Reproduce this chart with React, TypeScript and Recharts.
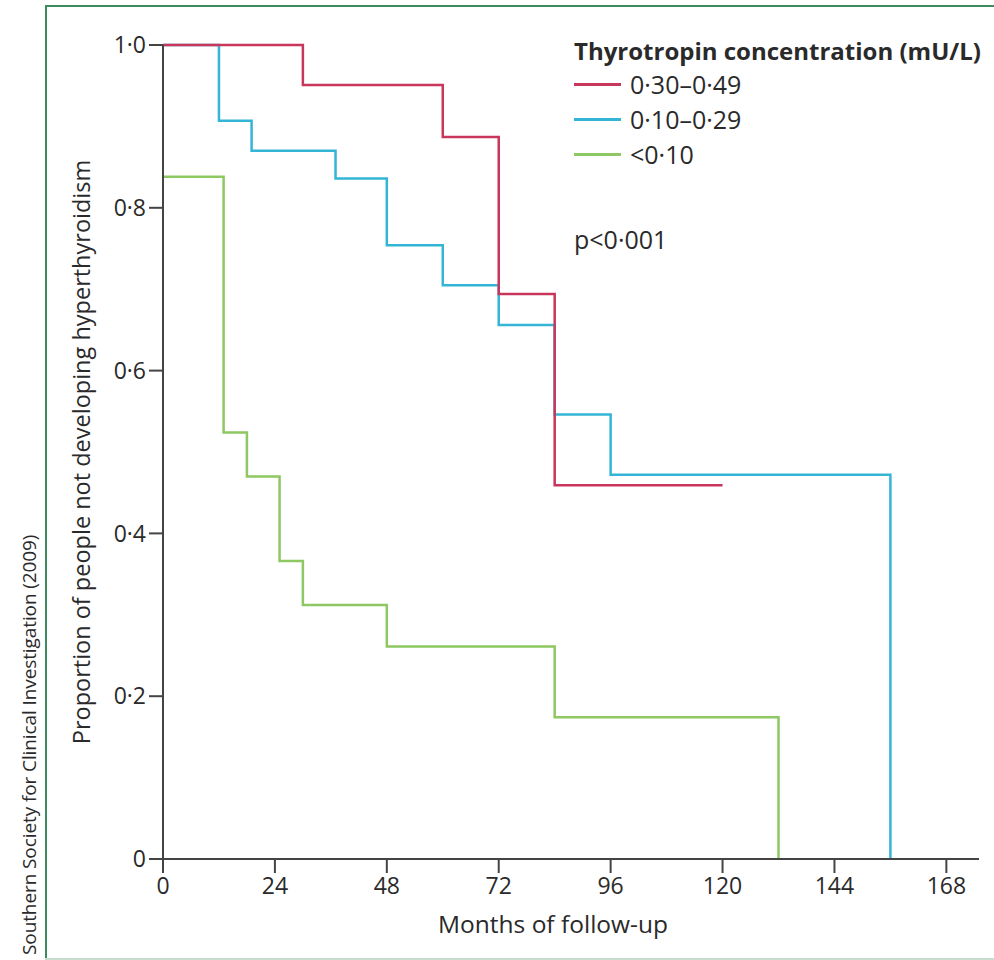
import React from 'react';
import { LineChart, Line, XAxis, YAxis, Legend } from 'recharts';

// Kaplan-Meier step data (months, proportion free of hyperthyroidism)
const redTimes = [0, 30, 60, 72, 84, 120];
const redSurv = [1.0, 0.951, 0.887, 0.694, 0.459, 0.459];
const blueTimes = [0, 12, 19, 37, 48, 60, 72, 84, 96, 156];
const blueSurv = [1.0, 0.907, 0.87, 0.836, 0.754, 0.705, 0.656, 0.546, 0.472, 0];
const greenTimes = [0, 13, 18, 25, 30, 48, 84, 132];
const greenSurv = [0.838, 0.524, 0.47, 0.366, 0.312, 0.261, 0.174, 0];

const seriesNames = ['0·30–0·49', '0·10–0·29', '<0·10'];
const legendTitle = 'Thyrotropin concentration (mU/L)';
const pValueText = 'p<0·001';
const xTicks = [0, 24, 48, 72, 96, 120, 144, 168];
const yTicks = [0, 0.2, 0.4, 0.6, 0.8, 1.0];
const yTickLabels = ['0', '0·2', '0·4', '0·6', '0·8', '1·0'];
const xLabel = 'Months of follow-up';
const yLabel = 'Proportion of people not developing hyperthyroidism';
const sourceText = 'Southern Society for Clinical Investigation (2009)';

const COLORS = ['#c9365c', '#34b5d6', '#8dc863'];
const FONT = '"Open Sans", "Noto Sans", sans-serif';
const TEXT = '#2a2a2a';
const AXIS = '#444444';

const toRows = (t: number[], s: number[]) => t.map((v, i) => ({ t: v, s: s[i] }));
const redData = toRows(redTimes, redSurv);
const blueData = toRows(blueTimes, blueSurv);
const greenData = toRows(greenTimes, greenSurv);

const LegendContent = () => (
  <div style={{ fontFamily: FONT, color: TEXT, width: 420 }}>
    <div style={{ height: 32, lineHeight: '32px', fontSize: 24, fontWeight: 700, whiteSpace: 'nowrap', letterSpacing: 0 }}>
      {legendTitle}
    </div>
    {seriesNames.map((n, i) => (
      <div key={n} style={{ height: 35, display: 'flex', alignItems: 'center' }}>
        <span style={{ display: 'inline-block', width: 47, height: 0, borderTop: `3px solid ${COLORS[i]}`, marginRight: 9 }} />
        <span style={{ fontSize: 25, lineHeight: '35px' }}>{n}</span>
      </div>
    ))}
    <div style={{ marginTop: 52, height: 30, lineHeight: '30px', fontSize: 25 }}>{pValueText}</div>
  </div>
);

export default function App() {
  return (
    <div style={{ position: 'absolute', left: 0, top: 0, width: 994, height: 960, background: '#fff', overflow: 'hidden' }}>
      <div style={{ position: 'absolute', left: 45, top: 5, width: 960, height: 2, background: '#3d8b5e' }} />
      <div style={{ position: 'absolute', left: 45, top: 5, width: 2, height: 955, background: '#3d8b5e' }} />
      <div style={{ position: 'absolute', left: 45, top: 958, width: 960, height: 2, background: '#c8dccf' }} />
      <div
        style={{
          position: 'absolute',
          left: 16,
          top: 532,
          height: 426,
          width: 26,
          writingMode: 'vertical-rl',
          transform: 'rotate(180deg)',
          fontFamily: FONT,
          fontSize: 19,
          color: TEXT,
          textAlign: 'center',
          whiteSpace: 'nowrap',
          letterSpacing: -0.1,
        }}
      >
        {sourceText}
      </div>
      <div style={{ position: 'absolute', left: 0, top: 0 }}>
        <LineChart width={994} height={960} margin={{ top: 45, right: 15, bottom: 0, left: 0 }}>
          <XAxis
            dataKey="t"
            type="number"
            domain={[0, 174.5]}
            ticks={xTicks}
            interval={0}
            height={101}
            tickSize={14}
            tickMargin={5}
            axisLine={{ stroke: AXIS, strokeWidth: 2 }}
            tickLine={{ stroke: AXIS, strokeWidth: 2 }}
            tick={{ fill: TEXT, fontSize: 23, fontFamily: FONT }}
            allowDecimals={false}
            label={{
              value: xLabel,
              position: 'insideBottom',
              offset: 27,
              dx: -18,
              style: { fill: TEXT, fontSize: 24.5, fontFamily: FONT },
            }}
          />
          <YAxis
            type="number"
            domain={[0, 1]}
            ticks={yTicks}
            interval={0}
            width={163}
            tickSize={14}
            tickMargin={3}
            axisLine={{ stroke: AXIS, strokeWidth: 2 }}
            tickLine={{ stroke: AXIS, strokeWidth: 2 }}
            tick={{ fill: TEXT, fontSize: 23, fontFamily: FONT }}
            tickFormatter={(v: number) => yTickLabels[yTicks.indexOf(v)] ?? String(v)}
            label={{
              value: yLabel,
              angle: -90,
              position: 'center',
              dx: 0,
              style: { fill: TEXT, fontSize: 23.5, fontFamily: FONT, textAnchor: 'middle' },
            }}
          />
          <Legend
            layout="vertical"
            align="center"
            verticalAlign="middle"
            content={<LegendContent />}
            wrapperStyle={{ left: 574, top: 35, width: 420 }}
          />
          <Line data={greenData} dataKey="s" name={seriesNames[2]} type="stepAfter" stroke={COLORS[2]} strokeWidth={2.5} dot={false} activeDot={false} isAnimationActive={false} />
          <Line data={blueData} dataKey="s" name={seriesNames[1]} type="stepAfter" stroke={COLORS[1]} strokeWidth={2.5} dot={false} activeDot={false} isAnimationActive={false} />
          <Line data={redData} dataKey="s" name={seriesNames[0]} type="stepAfter" stroke={COLORS[0]} strokeWidth={2.5} dot={false} activeDot={false} isAnimationActive={false} />
        </LineChart>
      </div>
    </div>
  );
}
